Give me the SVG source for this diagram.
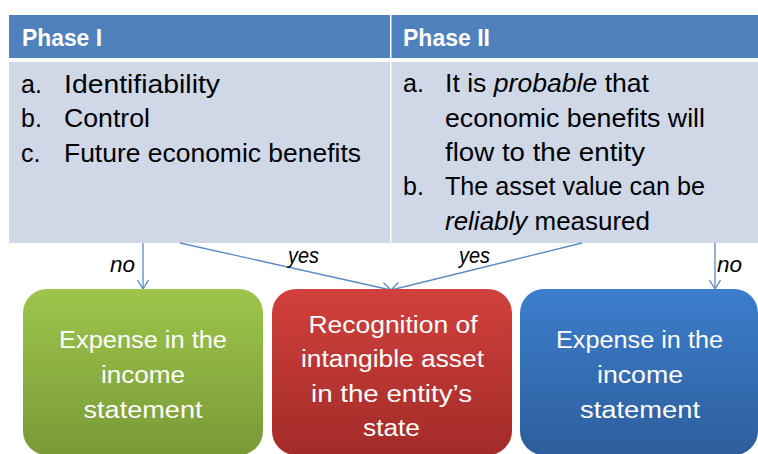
<svg xmlns="http://www.w3.org/2000/svg" width="758" height="454" viewBox="0 0 758 454">
<style>
.hdr{fill:#4F81BD}
.cell{fill:#D0D8E8}
.ht{font-family:"Liberation Sans",Arial,sans-serif;font-weight:bold;font-size:23px;fill:#FFFFFF}
.bt{font-family:"Liberation Sans",Arial,sans-serif;font-size:25px;fill:#000000}
.lbl{font-family:"Liberation Sans",Arial,sans-serif;font-style:italic;font-size:22px;fill:#000000}
.box{font-family:"Liberation Sans",Arial,sans-serif;font-size:23px;fill:#FFFFFF;text-anchor:middle}
.con{stroke:#5B8AC6;stroke-width:1.3;fill:none;marker-end:url(#arr)}
</style>
<defs>
<marker id="arr" markerUnits="userSpaceOnUse" markerWidth="12" markerHeight="12" refX="10" refY="6" orient="auto">
<path d="M1,0.5 L10,6 L1,11.5" fill="none" stroke="#5B8AC6" stroke-width="1.3"/>
</marker>
<linearGradient id="gG" x1="0" y1="0" x2="0" y2="1"><stop offset="0" stop-color="#9DC54B"/><stop offset="1" stop-color="#799A38"/></linearGradient>
<linearGradient id="gR" x1="0" y1="0" x2="0" y2="1"><stop offset="0" stop-color="#D1403C"/><stop offset="1" stop-color="#A32B29"/></linearGradient>
<linearGradient id="gB" x1="0" y1="0" x2="0" y2="1"><stop offset="0" stop-color="#3C7ECC"/><stop offset="1" stop-color="#2D5E9C"/></linearGradient>
</defs>
<rect width="758" height="454" fill="#FFFFFF"/>
<g id="table">
<rect class="hdr" x="9" y="15" width="381" height="43"/>
<rect class="hdr" x="391.5" y="15" width="366.5" height="43"/>
<rect class="cell" x="9" y="62" width="381" height="181"/>
<rect class="cell" x="391.5" y="62" width="366.5" height="181"/>
<text class="ht" x="22" y="46" textLength="80" lengthAdjust="spacingAndGlyphs">Phase I</text>
<text class="ht" x="403" y="46" textLength="87" lengthAdjust="spacingAndGlyphs">Phase II</text>
<text class="bt" x="21" y="92.5">a.</text>
<text class="bt" x="64" y="92.5" textLength="156" lengthAdjust="spacingAndGlyphs">Identifiability</text>
<text class="bt" x="21" y="127">b.</text>
<text class="bt" x="64" y="127" textLength="86" lengthAdjust="spacingAndGlyphs">Control</text>
<text class="bt" x="21" y="161.5">c.</text>
<text class="bt" x="64" y="161.5" textLength="297" lengthAdjust="spacingAndGlyphs">Future economic benefits</text>
<text class="bt" x="403" y="92">a.</text>
<text class="bt" x="445" y="92" textLength="204" lengthAdjust="spacingAndGlyphs">It is <tspan font-style="italic">probable</tspan> that</text>
<text class="bt" x="445" y="126.5" textLength="260" lengthAdjust="spacingAndGlyphs">economic benefits will</text>
<text class="bt" x="445" y="161" textLength="200" lengthAdjust="spacingAndGlyphs">flow to the entity</text>
<text class="bt" x="403" y="195">b.</text>
<text class="bt" x="445" y="195" textLength="260" lengthAdjust="spacingAndGlyphs">The asset value can be</text>
<text class="bt" x="445" y="229.5" textLength="205" lengthAdjust="spacingAndGlyphs"><tspan font-style="italic">reliably</tspan> measured</text>
</g>
<g id="connectors">
<line class="con" x1="143" y1="243" x2="143" y2="289"/>
<line class="con" x1="180" y1="243" x2="391" y2="290"/>
<line class="con" x1="582" y1="243" x2="391" y2="290"/>
<line class="con" x1="715" y1="243" x2="715" y2="289"/>
<text class="lbl" x="110" y="272" textLength="25" lengthAdjust="spacingAndGlyphs">no</text>
<text class="lbl" x="288" y="263" textLength="31" lengthAdjust="spacingAndGlyphs">yes</text>
<text class="lbl" x="459" y="263" textLength="31" lengthAdjust="spacingAndGlyphs">yes</text>
<text class="lbl" x="717" y="272" textLength="25" lengthAdjust="spacingAndGlyphs">no</text>
</g>
<g id="expense-left">
<rect x="23" y="289" width="240" height="166" rx="24" fill="url(#gG)"/>
<text class="box" x="143" y="348" textLength="168" lengthAdjust="spacingAndGlyphs">Expense in the</text>
<text class="box" x="143" y="383" textLength="84" lengthAdjust="spacingAndGlyphs">income</text>
<text class="box" x="143" y="418" textLength="119" lengthAdjust="spacingAndGlyphs">statement</text>
</g>
<g id="recognition">
<rect x="272" y="289" width="240" height="166" rx="24" fill="url(#gR)"/>
<text class="box" x="393" y="332.5" textLength="169" lengthAdjust="spacingAndGlyphs">Recognition of</text>
<text class="box" x="392.5" y="367" textLength="183" lengthAdjust="spacingAndGlyphs">intangible asset</text>
<text class="box" x="391.5" y="401.5" textLength="161" lengthAdjust="spacingAndGlyphs">in the entity’s</text>
<text class="box" x="391.5" y="435.5" textLength="57" lengthAdjust="spacingAndGlyphs">state</text>
</g>
<g id="expense-right">
<rect x="520" y="289" width="238" height="166" rx="24" fill="url(#gB)"/>
<text class="box" x="639.5" y="348" textLength="167" lengthAdjust="spacingAndGlyphs">Expense in the</text>
<text class="box" x="640" y="383" textLength="86" lengthAdjust="spacingAndGlyphs">income</text>
<text class="box" x="640" y="418" textLength="120" lengthAdjust="spacingAndGlyphs">statement</text>
</g>
</svg>
